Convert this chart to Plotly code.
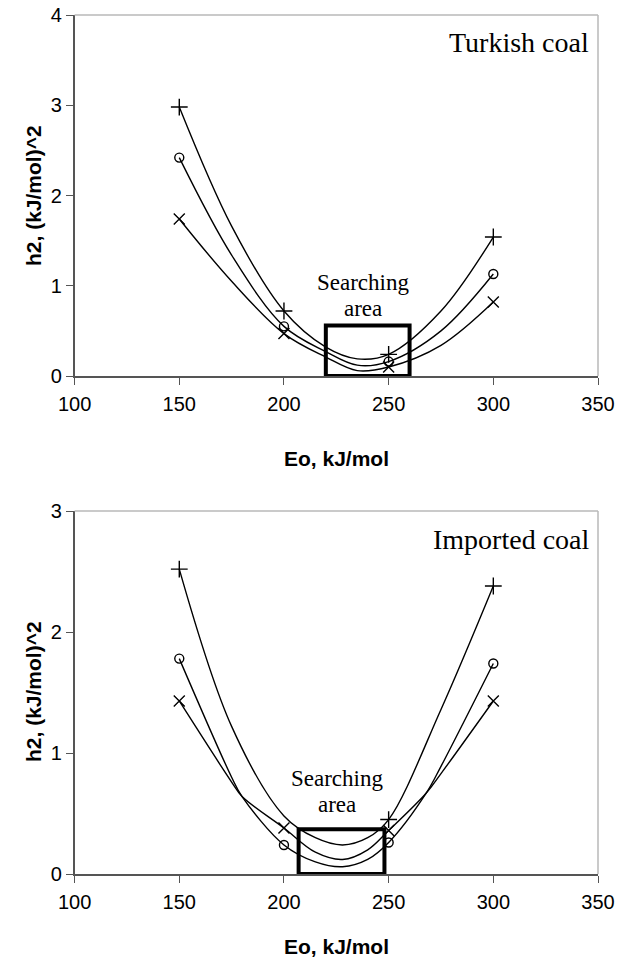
import plotly.graph_objects as go

# ---------------- data ----------------
eo_marks = [150, 200, 250, 300]
eo_curve = [150, 175, 200, 220, 235, 250, 275, 300]

# Turkish coal
tk_plus_marks = [2.98, 0.72, 0.24, 1.54]
tk_circ_marks = [2.42, 0.55, 0.16, 1.13]
tk_x_marks = [1.74, 0.47, 0.10, 0.82]
tk_plus_curve = [2.98, 1.66, 0.72, 0.32, 0.19, 0.24, 0.72, 1.54]
tk_circ_curve = [2.42, 1.34, 0.55, 0.27, 0.12, 0.16, 0.50, 1.13]
tk_x_curve = [1.74, 1.05, 0.47, 0.21, 0.06, 0.10, 0.34, 0.82]

# Imported coal
eo_curve_plus2 = [150, 175, 200, 215, 228, 240, 250, 275, 300]
eo_curve2 = [150, 175, 180, 200, 215, 228, 240, 250, 268, 275, 300]
im_plus_marks_x = [150, 250, 300]
im_plus_marks = [2.52, 0.45, 2.38]
im_circ_marks = [1.78, 0.24, 0.26, 1.74]
im_x_marks = [1.43, 0.38, 0.36, 1.43]
im_plus_curve = [2.52, 1.22, 0.48, 0.30, 0.24, 0.30, 0.45, 1.36, 2.38]
im_circ_curve = [1.78, 0.80, 0.64, 0.24, 0.10, 0.06, 0.12, 0.26, 0.67, 0.89, 1.74]
im_x_curve = [1.43, 0.76, 0.64, 0.38, 0.18, 0.12, 0.20, 0.36, 0.67, 0.83, 1.43]

x_ticks = [100, 150, 200, 250, 300, 350]
top_y_ticks = [0, 1, 2, 3, 4]
bot_y_ticks = [0, 1, 2, 3]

search_top = dict(x0=220, x1=260, y0=0, y1=0.56)
search_bot = dict(x0=207, x1=248, y0=0, y1=0.37)

# ---------------- figure ----------------
fig = go.Figure()
LINE = dict(color="black", width=1.4)


def add_series(xc, yc, xm, ym, symbol, size, xa, ya):
    fig.add_trace(go.Scatter(x=xc, y=yc, mode="lines", line=dict(shape="spline", smoothing=1.0, **LINE),
                             xaxis=xa, yaxis=ya, showlegend=False, hoverinfo="skip"))
    fig.add_trace(go.Scatter(x=xm, y=ym, mode="markers",
                             marker=dict(symbol=symbol, size=size, color="black",
                                         line=dict(color="black", width=1.4)),
                             xaxis=xa, yaxis=ya, showlegend=False))


add_series(eo_curve, tk_plus_curve, eo_marks, tk_plus_marks, "cross-thin", 12, "x", "y")
add_series(eo_curve, tk_circ_curve, eo_marks, tk_circ_marks, "circle-open", 9, "x", "y")
add_series(eo_curve, tk_x_curve, eo_marks, tk_x_marks, "x-thin", 11, "x", "y")

add_series(eo_curve_plus2, im_plus_curve, im_plus_marks_x, im_plus_marks, "cross-thin", 12, "x2", "y2")
add_series(eo_curve2, im_circ_curve, eo_marks, im_circ_marks, "circle-open", 9, "x2", "y2")
add_series(eo_curve2, im_x_curve, eo_marks, im_x_marks, "x-thin", 11, "x2", "y2")

# body margin is removed by post_script below, so page pixels == figure pixels
W, H = 618, 961


def px(x):
    return x / W


def py(y):
    return 1 - y / H


xdom = [px(74.6), px(598)]
top_dom = [py(376), py(15)]
bot_dom = [py(874), py(511)]

TICKFONT = dict(family="Liberation Sans, Arial", size=20, color="black")
TITLEFONT = dict(family="Liberation Sans, Arial", size=21, color="black")
AXCOL = "#555555"

xcommon = dict(range=[100, 350], tickvals=x_ticks, ticks="outside", ticklen=7, tickcolor=AXCOL,
               showline=True, linecolor=AXCOL, linewidth=1.5, showgrid=False, zeroline=False,
               tickfont=TICKFONT, ticklabelstandoff=2, automargin=False)
ycommon = dict(ticks="outside", ticklen=7, tickcolor=AXCOL, showline=True, linecolor=AXCOL,
               linewidth=1.5, showgrid=False, zeroline=False, tickfont=TICKFONT, ticklabelstandoff=0,
               automargin=False)

fig.update_layout(
    width=W, height=H, margin=dict(l=0, r=0, t=0, b=0, autoexpand=False),
    plot_bgcolor="white", paper_bgcolor="white",
    xaxis=dict(domain=xdom, anchor="y", **xcommon),
    yaxis=dict(domain=top_dom, anchor="x", range=[0, 4], tickvals=top_y_ticks, **ycommon),
    xaxis2=dict(domain=xdom, anchor="y2", **xcommon),
    yaxis2=dict(domain=bot_dom, anchor="x2", range=[0, 3], tickvals=bot_y_ticks, **ycommon),
)

# light grey top & right frame
for xr, yr in (("x domain", "y domain"), ("x2 domain", "y2 domain")):
    fig.add_shape(type="line", xref=xr, yref=yr, x0=0, x1=1, y0=1, y1=1,
                  line=dict(color="#b8b8b8", width=1.5))
    fig.add_shape(type="line", xref=xr, yref=yr, x0=1, x1=1, y0=0, y1=1,
                  line=dict(color="#b8b8b8", width=1.5))

# searching area boxes
fig.add_shape(type="rect", xref="x", yref="y", line=dict(color="black", width=4), **search_top)
fig.add_shape(type="rect", xref="x2", yref="y2", line=dict(color="black", width=4), **search_bot)


def ann(text, x, y, font, xanchor="center", angle=0):
    fig.add_annotation(xref="paper", yref="paper", x=px(x), y=py(y), text=text, showarrow=False,
                       xanchor=xanchor, yanchor="middle", textangle=angle, font=font, borderpad=0)


SERIF_BIG = dict(family="Liberation Serif, Times New Roman", size=28, color="black")
SERIF = dict(family="Liberation Serif, Times New Roman", size=23, color="black")

ann("Turkish coal", 590, 42, SERIF_BIG, xanchor="right")
ann("Imported coal", 590, 539, SERIF_BIG, xanchor="right")
ann("Searching", 363, 282, SERIF)
ann("area", 363, 308, SERIF)
ann("Searching", 337, 778, SERIF)
ann("area", 337, 804, SERIF)

ann("<b>Eo, kJ/mol</b>", 336, 459, TITLEFONT)
ann("<b>Eo, kJ/mol</b>", 336, 946, TITLEFONT)
ann("<b>h2, (kJ/mol)^2</b>", 33, 196, TITLEFONT, angle=-90)
ann("<b>h2, (kJ/mol)^2</b>", 33, 692, TITLEFONT, angle=-90)

fig.write_html("out.html", config={"displayModeBar": False},
               post_script="document.body.style.margin='0';document.body.style.padding='0';")
